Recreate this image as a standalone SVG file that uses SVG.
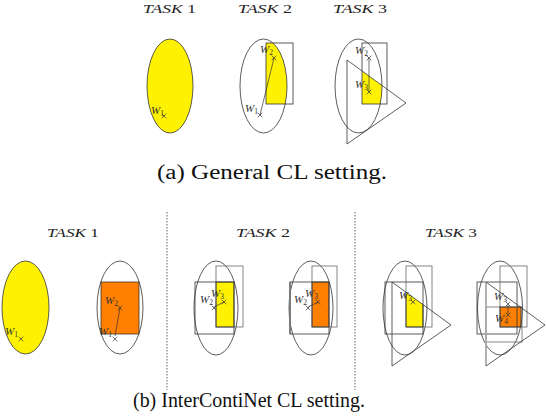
<svg xmlns="http://www.w3.org/2000/svg" width="546" height="418" viewBox="0 0 546 418">
<style>
.o{fill:none;stroke:#333;stroke-width:0.8}
.g{fill:none;stroke:#666;stroke-width:0.8}
.lg{fill:none;stroke:#aaa;stroke-width:1.8}
.y{fill:#FFF200}
.or{fill:#FF8000}
.x{fill:none;stroke:#333;stroke-width:0.7}
.t{font-family:"Liberation Serif","Times New Roman",serif;font-style:italic;font-size:12.5px;fill:#222}
.w{font-family:"Liberation Serif","Times New Roman",serif;font-style:italic;font-size:11px;fill:#333}
.s{font-size:7.5px;font-style:normal}
.cap{font-family:"Liberation Serif","Times New Roman",serif;font-size:20px;fill:#111}
.d{stroke:#888;stroke-width:1.3;stroke-dasharray:1.5,1.5;fill:none}
</style>
<defs>
<path id="xm" d="M-2.3,-2.3L2.3,2.3M-2.3,2.3L2.3,-2.3" class="x"/>
<clipPath id="cRt2"><rect x="266" y="43" width="27" height="61"/></clipPath>
<clipPath id="cEt3"><ellipse cx="358.5" cy="86" rx="23.5" ry="47"/></clipPath>
<clipPath id="cRt3"><rect x="362" y="43" width="25" height="61"/></clipPath>
<clipPath id="cRb3"><rect x="406" y="266" width="17" height="61"/></clipPath>
</defs>

<!-- top labels -->
<g id="top-labels">
<text class="t" x="143" y="13" textLength="53" lengthAdjust="spacingAndGlyphs">TASK <tspan font-style="normal">1</tspan></text>
<text class="t" x="238" y="13" textLength="54" lengthAdjust="spacingAndGlyphs">TASK <tspan font-style="normal">2</tspan></text>
<text class="t" x="333" y="13" textLength="54" lengthAdjust="spacingAndGlyphs">TASK <tspan font-style="normal">3</tspan></text>
</g>

<!-- (a) task 1 -->
<g id="a-task1">
<ellipse cx="170" cy="86" rx="23" ry="47" class="y" stroke="#333" stroke-width="0.8"/>
<text class="w" x="151" y="114">W<tspan class="s" dy="2">1</tspan></text>
<use href="#xm" x="164" y="116"/>
</g>

<!-- (a) task 2 -->
<g id="a-task2">
<ellipse cx="263.5" cy="86" rx="23.5" ry="47" class="y" clip-path="url(#cRt2)"/>
<ellipse cx="263.5" cy="86" rx="23.5" ry="47" class="o"/>
<rect x="266" y="43" width="27" height="61" class="o"/>
<line x1="260" y1="115" x2="274" y2="58" class="x"/>
<text class="w" x="260" y="53">W<tspan class="s" dy="2">2</tspan></text>
<use href="#xm" x="274" y="58"/>
<text class="w" x="245" y="112">W<tspan class="s" dy="2">1</tspan></text>
<use href="#xm" x="260" y="115"/>
</g>

<!-- (a) task 3 -->
<g id="a-task3">
<g clip-path="url(#cEt3)"><polygon points="347,60 406,103 347,144" class="y" clip-path="url(#cRt3)"/></g>
<ellipse cx="358.5" cy="86" rx="23.5" ry="47" class="o"/>
<rect x="362" y="43" width="25" height="61" class="o"/>
<polygon points="347,60 406,103 347,144" class="o"/>
<line x1="369" y1="58" x2="369" y2="92" class="x"/>
<text class="w" x="355" y="54">W<tspan class="s" dy="2">2</tspan></text>
<use href="#xm" x="369" y="58"/>
<text class="w" x="355" y="88">W<tspan class="s" dy="2">3</tspan></text>
<use href="#xm" x="369" y="92"/>
</g>

<text class="cap" x="157" y="179" textLength="230" lengthAdjust="spacingAndGlyphs">(a)  General CL setting.</text>

<!-- separators -->
<g id="connectors">
<line x1="167" y1="212" x2="167" y2="390" class="d"/>
<line x1="355" y1="212" x2="355" y2="390" class="d"/>
</g>

<g id="bottom-labels">
<text class="t" x="47" y="237" textLength="52" lengthAdjust="spacingAndGlyphs">TASK <tspan font-style="normal">1</tspan></text>
<text class="t" x="236" y="237" textLength="54" lengthAdjust="spacingAndGlyphs">TASK <tspan font-style="normal">2</tspan></text>
<text class="t" x="425" y="237" textLength="52" lengthAdjust="spacingAndGlyphs">TASK <tspan font-style="normal">3</tspan></text>
</g>

<!-- (b) task 1 -->
<g id="b-task1-left">
<ellipse cx="25.5" cy="307.5" rx="23.5" ry="46.5" class="y" stroke="#333" stroke-width="0.8"/>
<text class="w" x="5" y="335">W<tspan class="s" dy="2">1</tspan></text>
<use href="#xm" x="21" y="339"/>
</g>
<g id="b-task1-right">
<ellipse cx="120" cy="307.5" rx="23" ry="46.5" class="o"/>
<rect x="101" y="282" width="38" height="52" class="or" stroke="#333" stroke-width="0.8"/>
<line x1="115" y1="336" x2="120" y2="308" class="x"/>
<text class="w" x="105" y="304">W<tspan class="s" dy="2">2</tspan></text>
<use href="#xm" x="120" y="308"/>
<text class="w" x="99" y="335">W<tspan class="s" dy="2">1</tspan></text>
<use href="#xm" x="115" y="339"/>
</g>

<!-- (b) task 2 -->
<g id="b-task2-left">
<rect x="216" y="282" width="18" height="45" class="y"/>
<ellipse cx="216" cy="308" rx="22" ry="47" class="o"/>
<rect x="195" y="282" width="39" height="52" class="o"/>
<rect x="216" y="266" width="27" height="61" class="g"/>
<rect x="216" y="282" width="18" height="45" class="o"/>
<line x1="214" y1="307" x2="224" y2="302" class="x"/>
<text class="w" x="200" y="303">W<tspan class="s" dy="2">2</tspan></text>
<use href="#xm" x="214" y="308"/>
<text class="w" x="211" y="297">W<tspan class="s" dy="2">3</tspan></text>
<use href="#xm" x="224" y="302"/>
</g>
<g id="b-task2-right">
<rect x="312" y="282" width="17" height="45" class="or"/>
<ellipse cx="311" cy="308" rx="22" ry="47" class="o"/>
<line x1="290" y1="282" x2="290" y2="334" class="lg"/>
<rect x="290" y="282" width="39" height="52" class="o"/>
<rect x="312" y="266" width="25" height="61" class="g"/>
<rect x="312" y="282" width="17" height="45" class="o"/>
<line x1="308" y1="307" x2="318" y2="302" class="x"/>
<text class="w" x="294" y="303">W<tspan class="s" dy="2">2</tspan></text>
<use href="#xm" x="308" y="308"/>
<text class="w" x="305" y="297">W<tspan class="s" dy="2">3</tspan></text>
<use href="#xm" x="318" y="302"/>
</g>

<!-- (b) task 3 -->
<g id="b-task3-left">
<polygon points="392,282 451,325 392,366" class="y" clip-path="url(#cRb3)"/>
<ellipse cx="405" cy="308" rx="22" ry="47" class="o"/>
<rect x="385" y="282" width="38" height="52" class="o"/>
<rect x="406" y="266" width="26" height="61" class="g"/>
<polygon points="392,282 451,325 392,366" class="o"/>
<line x1="406" y1="292" x2="406" y2="327" class="o"/>
<line x1="423" y1="304.6" x2="423" y2="327" class="o"/>
<line x1="406" y1="327" x2="423" y2="327" class="o"/>
<text class="w" x="399" y="299">W<tspan class="s" dy="2">3</tspan></text>
<use href="#xm" x="413" y="302"/>
</g>
<g id="b-task3-right">
<rect x="500" y="307" width="21" height="20" class="or"/>
<ellipse cx="500" cy="308" rx="22.5" ry="47" class="o"/>
<rect x="477" y="282" width="40" height="52" class="o"/>
<rect x="500" y="266" width="27" height="61" class="g"/>
<rect x="486" y="307" width="36" height="35" class="g"/>
<line x1="486" y1="282" x2="486" y2="366" class="lg"/>
<polyline points="486,282 545,325 486,366" class="o"/>
<rect x="500" y="307" width="21" height="20" class="o"/>
<line x1="508" y1="305" x2="508" y2="314" class="x"/>
<text class="w" x="494" y="300">W<tspan class="s" dy="2">3</tspan></text>
<use href="#xm" x="508" y="304"/>
<text class="w" x="495" y="322">W<tspan class="s" dy="2">4</tspan></text>
<use href="#xm" x="508" y="315"/>
</g>

<text class="cap" x="133" y="407" font-size="21" textLength="232" lengthAdjust="spacingAndGlyphs">(b) InterContiNet CL setting.</text>
</svg>
